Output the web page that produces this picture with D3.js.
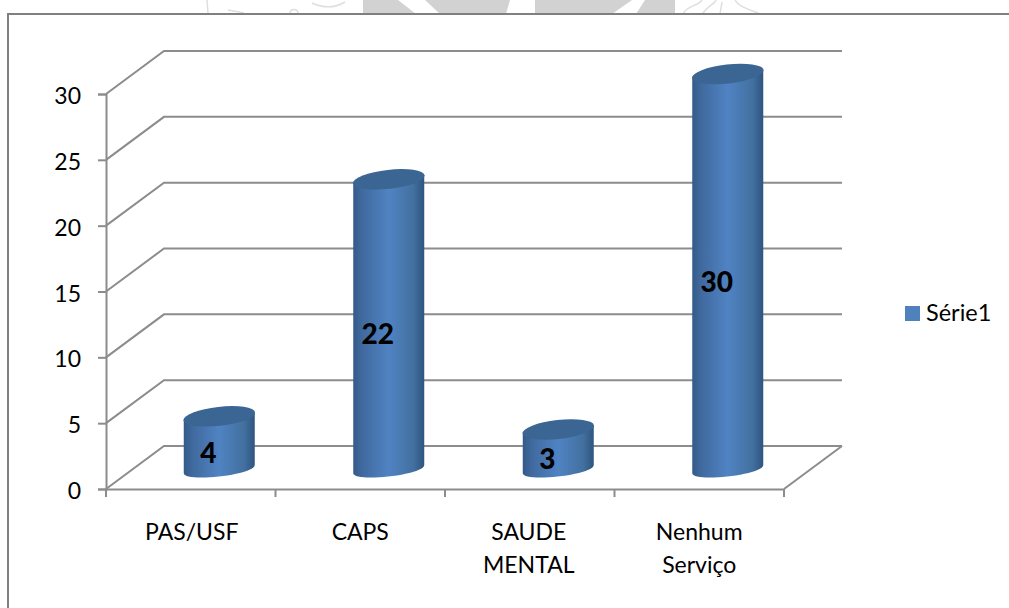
<!DOCTYPE html>
<html>
<head>
<meta charset="utf-8">
<script src="https://cdn.jsdelivr.net/npm/d3@7"></script>
<style>
  body { margin: 0; background: #fff; }
  text { font-family: Lato, "Open Sans", sans-serif; fill: #000; }
</style>
</head>
<body>
<svg id="chart" width="1009" height="608" style="display:block"></svg>
<script>
const categories = [["PAS/USF"], ["CAPS"], ["SAUDE", "MENTAL"], ["Nenhum", "Serviço"]];
const values = [4, 22, 3, 30];
const yTicks = [0, 5, 10, 15, 20, 25, 30];
const seriesName = "Série1";

const svg = d3.select("#chart");
const gridColor = "#8c8c8c";

const x = d3.scaleBand().domain(d3.range(categories.length)).range([106, 784]);
const y = d3.scaleLinear().domain([0, 30]).range([489, 94]);

// depth offset of the 3D back wall
const depthX = 58, depthY = -43;

const defs = svg.append("defs");
const grad = defs.append("linearGradient").attr("id", "cyl");
[["0%", "#335a88"], ["12%", "#40699e"], ["50%", "#5083c3"], ["85%", "#42709f"], ["100%", "#2f5480"]]
  .forEach(([o, c]) => grad.append("stop").attr("offset", o).attr("stop-color", c));

// page watermark showing above the frame
const mark = svg.append("g");
mark.append("path").attr("fill", "#d2d2d2")
  .attr("d", "M363,0H398L416,14H363ZM425,0H510L506,14H440ZM535,0H632L612,14H535ZM645,0H675V14H636Z");
mark.append("path").attr("fill", "none").attr("stroke", "#dedede").attr("stroke-width", 1.5)
  .attr("d", "M207,0L208,13M228,10L244,13M290,14C290,8 298,8 298,14M312,3C325,9 335,8 345,2M683,14C686,6 698,6 702,0M702,14C710,4 715,4 716,0M735,0C738,6 745,8 760,14M720,14L722,2");

// frame
svg.append("path")
  .attr("d", "M8,608V14H1009")
  .attr("fill", "none").attr("stroke", "#808080").attr("stroke-width", 2);

// back wall gridlines and their side-wall returns
const grid = svg.append("g").attr("fill", "none").attr("stroke", gridColor).attr("stroke-width", 2);
yTicks.forEach((t) => {
  grid.append("path").attr("d", `M${x.range()[0]},${y(t)}L${x.range()[0] + depthX},${y(t) + depthY}H${x.range()[1] + depthX}`);
});
// floor right edge
grid.append("path").attr("d", `M${x.range()[1]},${y(0)}L${x.range()[1] + depthX},${y(0) + depthY}`);

// axes
const axisY = d3.axisLeft(y).tickValues(yTicks).tickSize(8).tickPadding(17);
const gy = svg.append("g").attr("transform", `translate(${x.range()[0]},0)`).call(axisY);
const axisX = d3.axisBottom(x).tickSize(0).tickFormat("");
const gx = svg.append("g").attr("transform", `translate(0,${y(0)})`).call(axisX);
gx.append("g").selectAll("line")
  .data(d3.range(categories.length + 1))
  .join("line")
  .attr("x1", (i) => x.range()[0] + i * x.step())
  .attr("x2", (i) => x.range()[0] + i * x.step())
  .attr("y1", 0).attr("y2", 8);
[gy, gx].forEach((g) => {
  g.selectAll("path, line").attr("stroke", gridColor).attr("stroke-width", 2);
  g.attr("font-family", null).attr("font-size", null);
});
gy.selectAll("text").style("font-size", "23px").attr("dy", "9.5px");

// cylinders
const barW = 71, ry = 9.5, tilt = -6.5, lift = 20, slant = 4;
const cx = (i) => x(i) + x.bandwidth() / 2 + 28.5;
const bars = svg.append("g").selectAll("g").data(values).join("g")
  .attr("transform", (d, i) => `translate(${cx(i)},0)`);
bars.append("path")
  .attr("fill", "url(#cyl)")
  .attr("d", (d) => {
    const topY = y(d) - lift, baseY = y(0) - lift;
    const k = 10;
    return `M${-barW / 2},${topY + slant}V${baseY + slant}` +
      `C${-barW / 2},${baseY + slant + k} ${barW / 2},${baseY - slant + k} ${barW / 2},${baseY - slant}` +
      `V${topY - slant}Z`;
  });
bars.append("ellipse")
  .attr("cy", (d) => y(d) - lift)
  .attr("rx", barW / 2 + 0.5).attr("ry", ry)
  .attr("transform", (d) => `rotate(${tilt} 0 ${y(d) - lift})`)
  .attr("fill", "#3b6593");

// data labels
bars.append("text")
  .attr("x", -11)
  .attr("y", (d) => (y(d) + y(0)) / 2)
  .attr("text-anchor", "middle")
  .style("font-size", "28px").style("font-weight", "900")
  .text((d) => d);

// category labels
const labels = svg.append("g").selectAll("text").data(categories).join("text")
  .attr("text-anchor", "middle")
  .style("font-size", "23px");
labels.each(function (lines, i) {
  d3.select(this).selectAll("tspan").data(lines).join("tspan")
    .attr("x", x(i) + x.bandwidth() / 2 + [1, 0, -1, 0][i])
    .attr("y", (l, j) => 540 + j * 33)
    .text((l) => l);
});

// legend
svg.append("rect").attr("x", 905).attr("y", 306).attr("width", 15).attr("height", 15)
  .attr("fill", "#4f81bd");
svg.append("text").attr("x", 926).attr("y", 321).style("font-size", "23.5px").text(seriesName);
</script>
</body>
</html>
